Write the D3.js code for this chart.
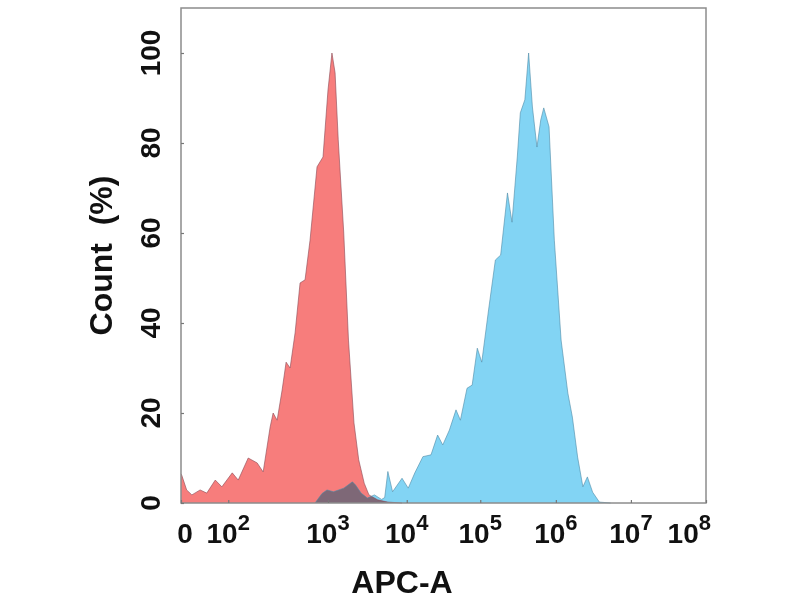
<!DOCTYPE html>
<html lang="en">
<head>
<meta charset="utf-8">
<title>APC-A histogram</title>
<script src="https://cdn.jsdelivr.net/npm/d3@7"></script>
<style>
  body { margin: 0; background: #fff; }
  svg text { font-family: "Liberation Sans", Arial, sans-serif; font-weight: bold; fill: #111; }
  .frame { fill: none; stroke: #8c8c8c; stroke-width: 1.5; }
  .axis path { display: none; }
  .axis line { stroke: #777; stroke-width: 1.2; }
</style>
</head>
<body>
<script>
// x is stored in "decades": 0 = the zero point, 2..8 = 10^2..10^8
var xTickVals = [0, 2, 3, 4, 5, 6, 7, 8];
var yTickVals = [0, 20, 40, 60, 80, 100];

// control sample (red)
var redDecade = [0, 0.03, 0.24, 0.46, 0.81, 1.09, 1.45, 1.73, 2.04, 2.10, 2.20, 2.29, 2.35, 2.42, 2.45, 2.49,
  2.54, 2.58, 2.62, 2.67, 2.72, 2.77, 2.82, 2.89, 2.95, 3.00, 3.05, 3.09, 3.13, 3.20, 3.26, 3.33, 3.39,
  3.46, 3.52, 3.63, 3.76, 3.94];
var redCount = [6.5, 6.2, 2.9, 1.8, 2.9, 2.2, 5.1, 3.6, 6.7, 5.1, 10, 8.9, 6.9, 16.9, 20, 18.4,
  25.1, 31.3, 30, 37.8, 48.9, 49.6, 58.4, 74.7, 76.9, 91.8, 100, 95.6, 80.7, 60, 36.2, 17.8, 9.6,
  4.4, 1.8, 0.7, 0.2, 0];

// stained sample (blue)
var blueDecade = [2.87, 2.94, 2.99, 3.07, 3.20, 3.31, 3.35, 3.42, 3.50, 3.59, 3.68, 3.72, 3.76, 3.82,
  3.94, 4.02, 4.11, 4.22, 4.33, 4.42, 4.49, 4.58, 4.67, 4.73, 4.82, 4.89, 4.96, 5.02, 5.11, 5.20,
  5.27, 5.36, 5.42, 5.49, 5.53, 5.59, 5.64, 5.69, 5.75, 5.80, 5.84, 5.91, 5.98, 6.07, 6.16, 6.22,
  6.29, 6.36, 6.42, 6.49, 6.58, 6.73];
var blueCount = [0, 2.1, 2.9, 2.5, 3.3, 4.7, 4, 2.2, 1.1, 1.8, 0.8, 1.2, 7, 2.5,
  5.5, 3.3, 6.7, 10.3, 10.7, 15.1, 12.9, 16.2, 20.7, 18.4, 25.5, 26.2, 34.4, 31.3, 42.9, 54,
  55.1, 68.9, 62.4, 76.9, 86.7, 89.6, 100, 88, 79.1, 85.1, 87.8, 83.6, 58.4, 36.2, 24.4, 19.1,
  10.2, 3.6, 5.8, 2.4, 0.2, 0];

var W = 800, H = 600;
var margin = {top: 8, right: 94, bottom: 97, left: 181};
var w = W - margin.left - margin.right;
var h = H - margin.top - margin.bottom;

var svg = d3.select("body").append("svg")
  .attr("width", W)
  .attr("height", H);

var g = svg.append("g")
  .attr("transform", "translate(" + margin.left + "," + margin.top + ")");

// biexponential-like display: piecewise linear in decades
var xScale = d3.scaleLinear()
  .domain(xTickVals)
  .range([0, 0.09, 0.28, 0.43, 0.57, 0.714, 0.857, 1].map(function(f) { return f * w; }));

var yScale = d3.scaleLinear()
  .domain([0, 110])
  .range([h, 0]);

var red = redDecade.map(function(d, i) { return [d, redCount[i]]; });
var blue = blueDecade.map(function(d, i) { return [d, blueCount[i]]; });

var area = d3.area()
  .x(function(d) { return xScale(d[0]); })
  .y0(yScale(0))
  .y1(function(d) { return yScale(d[1]); });

var line = d3.line()
  .x(function(d) { return xScale(d[0]); })
  .y(function(d) { return yScale(d[1]); });

g.append("path").datum(red)
  .attr("d", area)
  .attr("fill", "#f77d7c");

g.append("path").datum(blue)
  .attr("d", area)
  .attr("fill", "#82d4f4")
  .style("mix-blend-mode", "multiply");

g.append("path").datum(red)
  .attr("d", line)
  .attr("fill", "none")
  .attr("stroke", "#8a4a55")
  .attr("stroke-opacity", 0.6)
  .attr("stroke-width", 1);

g.append("path").datum(blue)
  .attr("d", line)
  .attr("fill", "none")
  .attr("stroke", "#4f8aa6")
  .attr("stroke-opacity", 0.6)
  .attr("stroke-width", 1);

// frame
g.append("rect")
  .attr("class", "frame")
  .attr("x", 0).attr("y", 0)
  .attr("width", w).attr("height", h);

// axes (small inward ticks, labels drawn separately)
g.append("g")
  .attr("class", "axis")
  .attr("transform", "translate(0," + h + ")")
  .call(d3.axisBottom(xScale).tickValues(xTickVals).tickSize(-3).tickFormat(""));

g.append("g")
  .attr("class", "axis")
  .call(d3.axisLeft(yScale).tickValues(yTickVals).tickSize(-3).tickFormat(""));

// x tick labels with superscripts
var xl = g.append("g").attr("class", "xlabels");
xTickVals.forEach(function(v, i) {
  var t = xl.append("text")
    .attr("y", h + 40)
    .attr("font-size", 28);
  if (v === 0) {
    t.attr("x", xScale(v) + 4).attr("text-anchor", "middle").text("0");
  } else {
    var last = i === xTickVals.length - 1;
    t.attr("x", last ? xScale(v) + 5 : xScale(v))
      .attr("text-anchor", last ? "end" : "middle");
    t.append("tspan").text("10");
    t.append("tspan").attr("font-size", 22).attr("dy", -13).text(v);
  }
});

// y tick labels, rotated
yTickVals.forEach(function(v) {
  g.append("text")
    .attr("transform", "translate(-21," + yScale(v) + ") rotate(-90)")
    .attr("text-anchor", "middle")
    .attr("font-size", 28)
    .text(v);
});

// axis titles
svg.append("text")
  .attr("transform", "translate(112," + (margin.top + h / 2) + ") rotate(-90)")
  .attr("text-anchor", "middle")
  .attr("font-size", 32)
  .attr("xml:space", "preserve")
  .text("Count  (%)");

svg.append("text")
  .attr("x", 402)
  .attr("y", 593)
  .attr("text-anchor", "middle")
  .attr("font-size", 32)
  .text("APC-A");
</script>
</body>
</html>
